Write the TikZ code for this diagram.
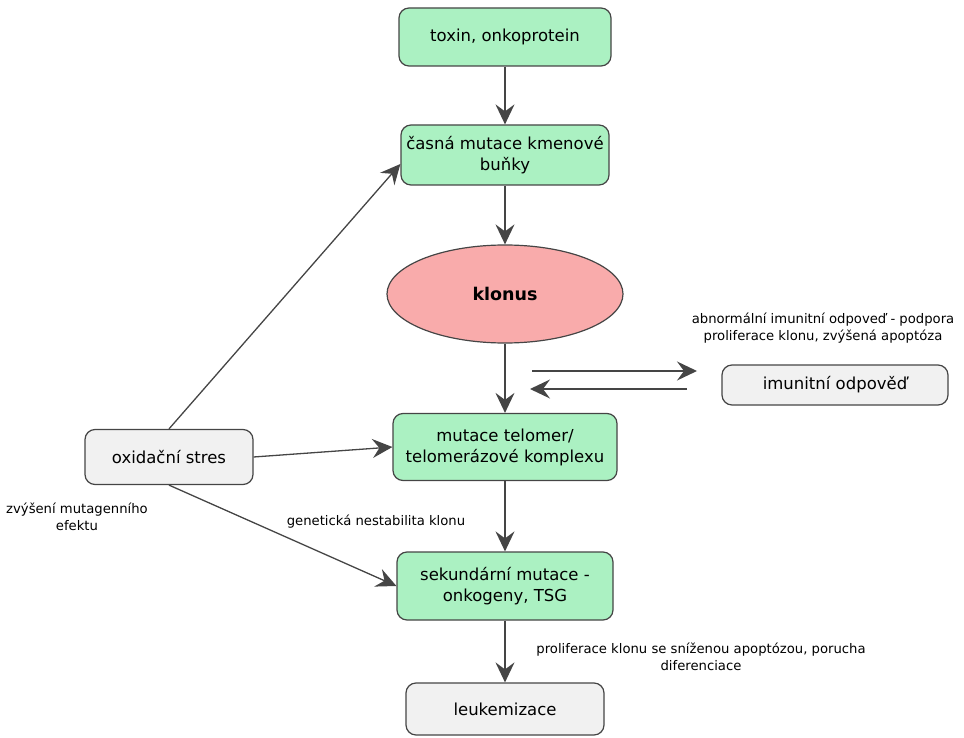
\documentclass[tikz,border=0pt]{standalone}
\usepackage{fontspec}
\setmainfont{DejaVu Sans}
\usetikzlibrary{shapes.geometric,arrows.meta,calc}
\newlength{\du}
\setlength{\du}{1pt}
\definecolor{boxgreen}{rgb}{0.670000, 0.945000, 0.760000}
\definecolor{boxred}{rgb}{0.975000, 0.670000, 0.670000}
\definecolor{boxgray}{rgb}{0.945000, 0.945000, 0.945000}
\definecolor{linegray}{rgb}{0.270000, 0.270000, 0.270000}
\tikzset{
  box/.style={draw=linegray, line width=1.2\du, rounded corners=10\du, align=center,
    inner sep=0pt, font=\fontsize{16.5}{21}\selectfont},
  greenbox/.style={box, fill=boxgreen},
  graybox/.style={box, fill=boxgray},
  link/.style={draw=linegray, line width=1.3\du, -{Stealth[length=20pt,width=19pt,inset=7pt]}},
  lbl/.style={align=center, inner sep=0pt, font=\fontsize{13.2}{17}\selectfont}
}

\begin{document}
\begin{tikzpicture}
\pgftransformxscale{1.000000}
\pgftransformyscale{-1.000000}
\useasboundingbox (0\du,0\du) rectangle (964\du,738\du);
% main column
\node[greenbox, minimum width=212\du, minimum height=58\du] (toxin) at (505\du,37\du) {toxin, onkoprotein};
\node[greenbox, minimum width=208\du, minimum height=60\du] (casna) at (505\du,155\du) {časná mutace kmenové\\buňky};
\node[draw=linegray, line width=1.2\du, fill=boxred, ellipse, inner sep=0pt,
  minimum width=236\du, minimum height=98\du, font=\fontsize{17.5}{21}\selectfont\bfseries] (klonus) at (505\du,294\du) {klonus};
\node[greenbox, minimum width=224\du, minimum height=67\du] (telomer) at (505\du,447\du) {mutace telomer/\\telomerázové komplexu};
\node[greenbox, minimum width=216\du, minimum height=68\du] (sekund) at (505\du,586\du) {sekundární mutace -\\onkogeny, TSG};
\node[graybox, minimum width=198\du, minimum height=52\du] (leuk) at (505\du,709\du) {leukemizace};
% side boxes
\node[graybox, minimum width=168\du, minimum height=55\du] (oxid) at (169\du,457\du) {oxidační stres};
\node[graybox, minimum width=226\du, minimum height=40\du] (imun) at (835\du,385\du) {imunitní odpověď};
% labels
\node[lbl] (abnlbl) at (823\du,328\du) {abnormální imunitní odpoveď - podpora\\proliferace klonu, zvýšená apoptóza};
\node[lbl] (zvyslbl) at (77\du,517\du) {zvýšení mutagenního\\efektu};
\node[lbl] (genlbl) at (376\du,522\du) {genetická nestabilita klonu};
\node[lbl] (prolbl) at (701\du,657\du) {proliferace klonu se sníženou apoptózou, porucha\\diferenciace};
% connectors
\draw[link] (toxin) -- (casna);
\draw[link] (casna) -- (klonus);
\draw[link] (klonus) -- (telomer);
\draw[link] (telomer) -- (sekund);
\draw[link] (sekund) -- (leuk);
\draw[link] (oxid.north) -- ($(casna.west)+(0\du,9\du)$);
\draw[link] (oxid.east) -- (telomer.west);
\draw[link] (oxid.south) -- (sekund.west);
\coordinate (ina) at (532\du,371\du);
\coordinate (inb) at (697\du,371\du);
\coordinate (outa) at (687\du,389\du);
\coordinate (outb) at (530\du,389\du);
\draw[link] (ina) -- (inb);
\draw[link] (outa) -- (outb);
\end{tikzpicture}
\end{document}
